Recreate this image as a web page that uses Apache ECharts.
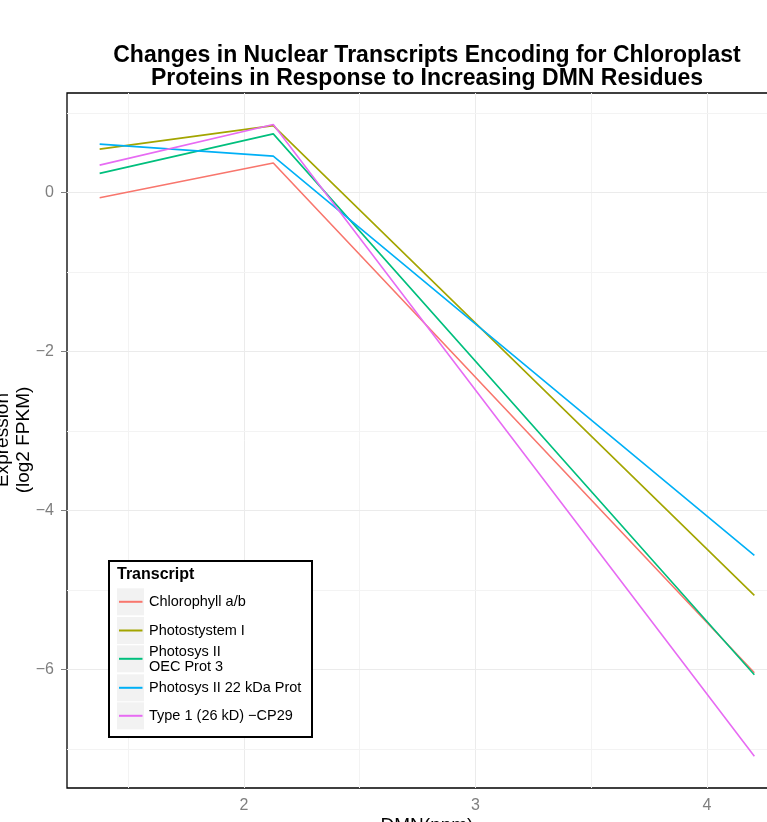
<!DOCTYPE html>
<html>
<head>
<meta charset="utf-8">
<script src="https://cdn.jsdelivr.net/npm/echarts@6/dist/echarts.min.js"></script>
<style>
  html, body { margin: 0; padding: 0; background: #fff; overflow: hidden; width: 767px; height: 822px; }
  #chart { width: 800px; height: 822px; }
</style>
</head>
<body>
<div id="chart"></div>
<script>
// DMN residue level (log10 ppm) for each sample
const dmnLevels = [1.377, 2.127, 4.205];

// Expression, log2 FPKM, per transcript
const chlorophyllAB   = [-0.068, 0.37, -6.04];
const photosystemI    = [0.544, 0.84, -5.068];
const photosysIIOEC   = [0.239, 0.736, -6.065];
const photosysII22kDa = [0.607, 0.456, -4.565];
const type1CP29       = [0.343, 0.855, -7.09];

const seriesNames = [
  'Chlorophyll a/b',
  'Photostystem I',
  'Photosys II\nOEC Prot 3',
  'Photosys II 22 kDa Prot',
  'Type 1 (26 kD) \u2212CP29'
];
const seriesValues = [chlorophyllAB, photosystemI, photosysIIOEC, photosysII22kDa, type1CP29];
const palette = ['#F8766D', '#A3A500', '#00BF7D', '#00B0F6', '#E76BF3'];

// Axis ticks and grid lines
const xTicks = [2, 3, 4];
const yTicks = [-6, -4, -2, 0];
const xMinorGrid = [1.5, 2.5, 3.5];
const yMinorGrid = [-7, -5, -3, -1, 1];

const FONT = 'Liberation Sans, Arial, Helvetica, sans-serif';
const GREY = '#7f7f7f';

const fmtNum = v => (v < 0 ? '\u2212' : '') + Math.abs(v);

const chart = echarts.init(document.getElementById('chart'), null, { renderer: 'canvas' });

const majorStyle = () => ({ color: '#ebebeb', width: 1, type: 'solid' });
const minorStyle = () => ({ color: '#f3f3f3', width: 1, type: 'solid' });
const gridLines = [];
xTicks.forEach(v => gridLines.push({ xAxis: v, lineStyle: majorStyle() }));
xMinorGrid.forEach(v => gridLines.push({ xAxis: v, lineStyle: minorStyle() }));
yTicks.forEach(v => gridLines.push({ yAxis: v, lineStyle: majorStyle() }));
yMinorGrid.forEach(v => gridLines.push({ yAxis: v, lineStyle: minorStyle() }));

const series = [{
  name: 'grid',
  type: 'line',
  data: [],
  z: 1,
  silent: true,
  markLine: {
    silent: true,
    z: 1,
    symbol: 'none',
    label: { show: false },
    lineStyle: { type: 'solid' },
    emphasis: { disabled: true },
    animation: false,
    data: gridLines
  }
}];

seriesValues.forEach((vals, i) => {
  series.push({
    name: seriesNames[i],
    type: 'line',
    data: dmnLevels.map((x, j) => [x, vals[j]]),
    showSymbol: false,
    symbol: 'none',
    z: 10 + i,
    lineStyle: { color: palette[i], width: 1.6 },
    itemStyle: { color: palette[i] },
    animation: false
  });
});

// Legend drawn as a boxed key
const LZ = 40;
const keyTops = [27.3, 56, 84.3, 113.3, 141.3];
const legendChildren = [
  { type: 'rect', z: LZ, shape: { x: 0, y: 0, width: 203, height: 176 },
    style: { fill: '#fff', stroke: '#000', lineWidth: 2 } },
  { type: 'text', z: LZ + 1, x: 8, y: 13.5,
    style: { text: 'Transcript', font: 'bold 16px ' + FONT, fill: '#000', textVerticalAlign: 'middle' } }
];
seriesNames.forEach((name, i) => {
  const top = keyTops[i];
  const mid = top + 13.5;
  legendChildren.push({ type: 'rect', z: LZ + 1, shape: { x: 8, y: top, width: 27, height: 27 },
    style: { fill: '#f2f2f2' } });
  legendChildren.push({ type: 'line', z: LZ + 2, shape: { x1: 10, y1: mid, x2: 33.5, y2: mid },
    style: { stroke: palette[i], lineWidth: 2 } });
  legendChildren.push({ type: 'text', z: LZ + 2, x: 40, y: mid + 0.5,
    style: { text: name, font: '14.5px ' + FONT, fill: '#000', textVerticalAlign: 'middle', lineHeight: 15 } });
});

chart.setOption({
  animation: false,
  backgroundColor: '#fff',
  grid: {
    left: 67, top: 93, right: 13, bottom: 34,
    show: true, borderColor: '#000', borderWidth: 1.3, backgroundColor: '#fff'
  },
  xAxis: {
    type: 'value',
    min: 1.236,
    max: 4.346,
    axisLine: { show: false },
    splitLine: { show: false },
    axisTick: { show: true, customValues: xTicks, length: 6, lineStyle: { color: GREY, width: 1 } },
    axisLabel: { customValues: xTicks, color: GREY, fontSize: 16, fontFamily: FONT, margin: 10, formatter: fmtNum }
  },
  yAxis: {
    type: 'value',
    min: -7.49,
    max: 1.25,
    axisLine: { show: false },
    splitLine: { show: false },
    axisTick: { show: true, customValues: yTicks, length: 6, lineStyle: { color: GREY, width: 1 } },
    axisLabel: { customValues: yTicks, color: GREY, fontSize: 16, fontFamily: FONT, margin: 13, formatter: fmtNum }
  },
  series: series,
  graphic: [
    { type: 'text', x: 427, y: 67.5, z: 30,
      style: { text: 'Changes in Nuclear Transcripts Encoding for Chloroplast\nProteins in Response to Increasing DMN Residues',
               font: 'bold 23px ' + FONT, fill: '#000', textAlign: 'center', textVerticalAlign: 'middle', lineHeight: 23 } },
    { type: 'text', x: 13.5, y: 440, rotation: Math.PI / 2, z: 30,
      style: { text: 'Expression\n(log2 FPKM)', font: '19px ' + FONT, fill: '#000', textAlign: 'center', textVerticalAlign: 'middle', lineHeight: 21 } },
    { type: 'text', x: 427, y: 826, z: 30,
      style: { text: 'DMN(ppm)', font: '19px ' + FONT, fill: '#000', textAlign: 'center', textVerticalAlign: 'middle' } },
    { type: 'group', x: 109, y: 561, z: LZ, children: legendChildren }
  ]
});
</script>
</body>
</html>
